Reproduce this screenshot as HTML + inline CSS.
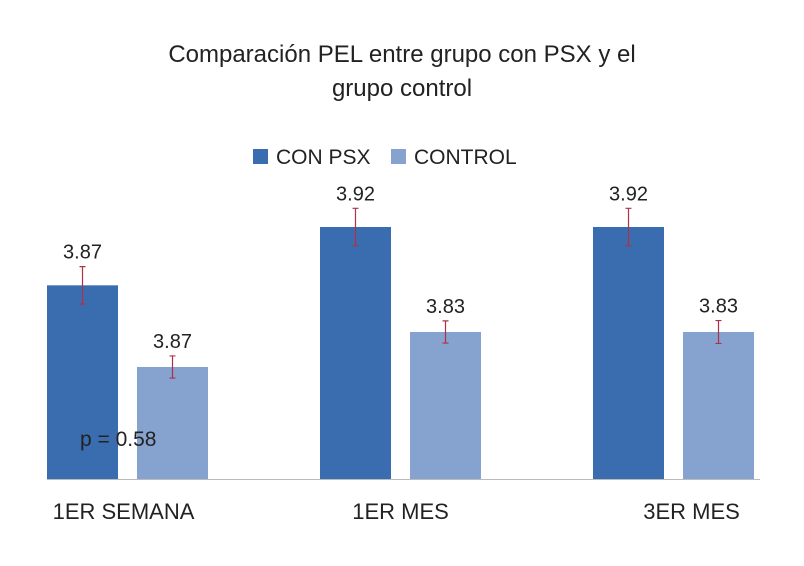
<!DOCTYPE html>
<html><head><meta charset="utf-8"><style>
html,body{margin:0;padding:0;background:#fff}
svg{display:block}
text{font-family:"Liberation Sans Narrow","Liberation Sans",sans-serif;fill:#222}
</style></head><body>
<svg id="chart" width="804" height="566" viewBox="0 0 804 566">
<text x="402" y="62" text-anchor="middle" font-size="24">Comparación PEL entre grupo con PSX y el</text>
<text x="402" y="96" text-anchor="middle" font-size="24">grupo control</text>
<g>
<rect x="253" y="149" width="15" height="15" fill="#3A6DB0"/>
<text x="276" y="164" font-size="21">CON PSX</text>
<rect x="391" y="149" width="15" height="15" fill="#86A2CF"/>
<text x="414" y="164" font-size="21">CONTROL</text>
</g>
<line x1="47" y1="479.5" x2="760" y2="479.5" stroke="#bbb" stroke-width="1"/>
<g id="marks"></g>
<text x="80" y="446" font-size="21">p = 0.58</text>
</svg>
<script>
const categories = ["1ER SEMANA", "1ER MES", "3ER MES"];
const conPsxValues = [3.87, 3.92, 3.92];
const controlValues = [3.80, 3.83, 3.83];
const conPsxLabels = ["3.87", "3.92", "3.92"];
const controlLabels = ["3.87", "3.83", "3.83"];
const conPsxErrors = [0.016, 0.016, 0.016];
const controlErrors = [0.0095, 0.0095, 0.0098];

const baseY = 479, yMin = 3.704, pxPerUnit = 1166.7;
const y = v => baseY - (v - yMin) * pxPerUnit;
const groupX = i => 47 + i * 273;
const barW = 71, gap = 19;
const ns = "http://www.w3.org/2000/svg";
const g = document.getElementById("marks");
function mk(tag, attrs){const e=document.createElementNS(ns,tag);for(const k in attrs)e.setAttribute(k,attrs[k]);g.appendChild(e);return e;}
function drawBar(x, v, err, lab, color, nm){
  const top = y(v);
  const r = mk("rect",{x:x,y:top,width:barW,height:baseY-top,fill:color});
  
  
  const cx = x + barW/2, e1 = y(v+err), e2 = y(v-err);
  const eb = mk("path",{d:`M${cx} ${e1}V${e2}M${cx-3} ${e1}H${cx+3}M${cx-3} ${e2}H${cx+3}`,stroke:"#B0304A","stroke-width":1.2,fill:"none"});
  
  
  const t = mk("text",{x:cx,y:e1-8,"text-anchor":"middle","font-size":20});
  t.textContent = lab;
  
  
}
categories.forEach((c,i)=>{
  const x0 = groupX(i);
  drawBar(x0, conPsxValues[i], conPsxErrors[i], conPsxLabels[i], "#3A6DB0", "bar-con-psx-"+(i+1));
  drawBar(x0+barW+gap, controlValues[i], controlErrors[i], controlLabels[i], "#86A2CF", "bar-control-"+(i+1));
  const t = mk("text",{x:x0+barW+gap/2+ (i==2?18:0) - (i==0?4:0),y:519,"text-anchor":"middle","font-size":22});
  t.textContent = c;
  
  
});
</script>
</body></html>
